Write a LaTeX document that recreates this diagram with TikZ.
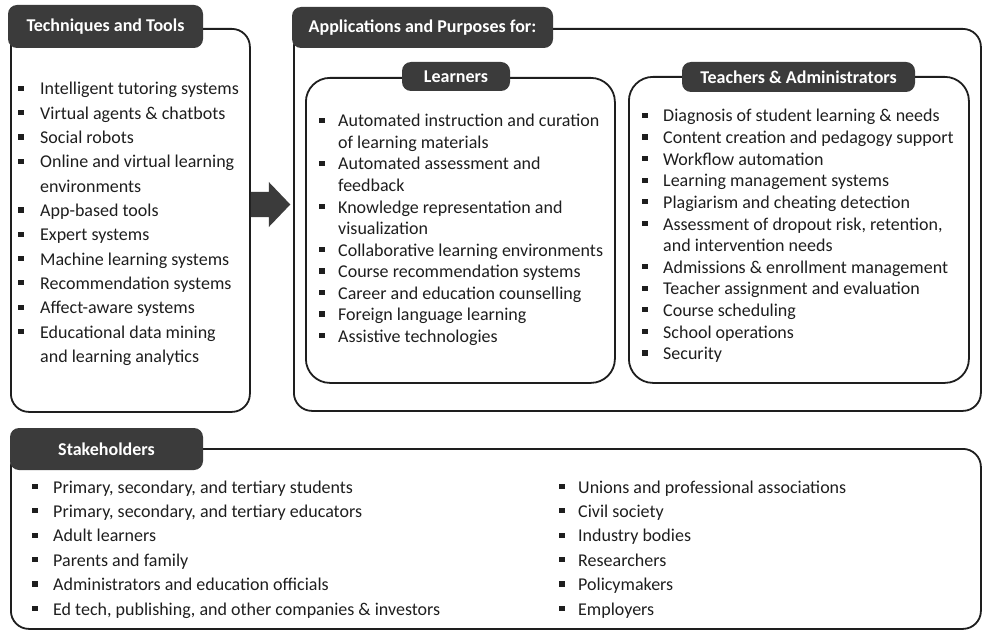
\documentclass[tikz,border=0pt]{standalone}
\usepackage{fontspec}
\setmainfont{Carlito}
\definecolor{tabgray}{HTML}{3B3B3B}
\definecolor{ink}{HTML}{1E1E1E}
% small square bullet: x of its centre, baseline of the line
\newcommand\sqbullet[2]{\fill[ink] ({#1-2.6},{#2-9.2}) rectangle ({#1+2.6},{#2-4});}
\begin{document}
\begin{tikzpicture}[x=1pt,y=-1pt,
  panel/.style={draw=ink, line width=1.8pt, rounded corners=18pt, inner sep=0pt, anchor=north west},
  subpanel/.style={panel, rounded corners=24pt},
  tab/.style={fill=tabgray, rounded corners=9pt, text=white, inner sep=0pt,
    font=\fontsize{18}{21}\selectfont\bfseries},
  item/.style={anchor=base west, inner sep=0pt, text=ink, font=\fontsize{18}{21}\selectfont},
]
\useasboundingbox (0,0) rectangle (982,631);

% frames
\node[panel, minimum width=239pt, minimum height=383pt] (tools) at (10,28) {};
\node[panel, minimum width=687pt, minimum height=382pt] (apps) at (293,28) {};
\node[subpanel, minimum width=309pt, minimum height=305pt] (learners) at (305,77) {};
\node[subpanel, minimum width=340pt, minimum height=306pt] (teachers) at (628,76) {};
\node[panel, minimum width=970pt, minimum height=180pt] (stake) at (10,448) {};

% title tabs
\node[tab, minimum width=195pt, minimum height=43pt] (tabtools) at (105.5,26.5) {Techniques and Tools};
\node[tab, minimum width=261pt, minimum height=41pt] (tabapps) at (422.5,27.5) {Applications and Purposes for:};
\node[tab, minimum width=108pt, minimum height=29pt] (tablearn) at (456,76.5) {Learners};
\node[tab, minimum width=233pt, minimum height=30pt] (tabteach) at (798.5,77) {Teachers \& Administrators};
\node[tab, minimum width=193pt, minimum height=42pt] (tabstake) at (106.5,449) {Stakeholders};

% block arrow from the tools panel to the applications panel
\coordinate (arrowtail) at (tools.east |- 0,204.5);
\fill[tabgray] (arrowtail) ++(0,-12.5) -- ++(18,0) -- ++(0,-10) -- ++(21.5,22.5)
  -- ++(-21.5,22.5) -- ++(0,-10) -- ++(-18,0) -- cycle;

% techniques and tools
\foreach \k/\t [count=\i from 0] in {
  b/Intelligent tutoring systems,
  b/Virtual agents \& chatbots,
  b/Social robots,
  b/Online and virtual learning,
  c/environments,
  b/App-based tools,
  b/Expert systems,
  b/Machine learning systems,
  b/Recommendation systems,
  b/Affect-aware systems,
  b/Educational data mining,
  c/and learning analytics}{
  \node[item] (tt\i) at (40,{95+24.3*\i}) {\t};
  \if b\k \sqbullet{21}{95+24.3*\i} \fi
}

% learners
\foreach \k/\t [count=\i from 0] in {
  b/Automated instruction and curation,
  c/of learning materials,
  b/Automated assessment and,
  c/feedback,
  b/Knowledge representation and,
  c/visualization,
  b/Collaborative learning environments,
  b/Course recommendation systems,
  b/Career and education counselling,
  b/Foreign language learning,
  b/Assistive technologies}{
  \node[item] (ll\i) at (338,{127+21.5*\i}) {\t};
  \if b\k \sqbullet{322}{127+21.5*\i} \fi
}

% teachers and administrators
\foreach \k/\t [count=\i from 0] in {
  b/Diagnosis of student learning \& needs,
  b/Content creation and pedagogy support,
  b/Workflow automation,
  b/Learning management systems,
  b/Plagiarism and cheating detection,
  b/{Assessment of dropout risk, retention,},
  c/and intervention needs,
  b/Admissions \& enrollment management,
  b/Teacher assignment and evaluation,
  b/Course scheduling,
  b/School operations,
  b/Security}{
  \node[item] (ta\i) at (663,{122+21.6*\i}) {\t};
  \if b\k \sqbullet{645}{122+21.6*\i} \fi
}

% stakeholders, two columns
\foreach \t [count=\i from 0] in {
  {Primary, secondary, and tertiary students},
  {Primary, secondary, and tertiary educators},
  Adult learners,
  Parents and family,
  Administrators and education officials,
  {Ed tech, publishing, and other companies \& investors}}{
  \node[item] (sa\i) at (53,{493+24.4*\i}) {\t};
  \sqbullet{35}{493+24.4*\i}
}
\foreach \t [count=\i from 0] in {
  Unions and professional associations,
  Civil society,
  Industry bodies,
  Researchers,
  Policymakers,
  Employers}{
  \node[item] (sb\i) at (578,{493+24.4*\i}) {\t};
  \sqbullet{562}{493+24.4*\i}
}
\end{tikzpicture}
\end{document}
